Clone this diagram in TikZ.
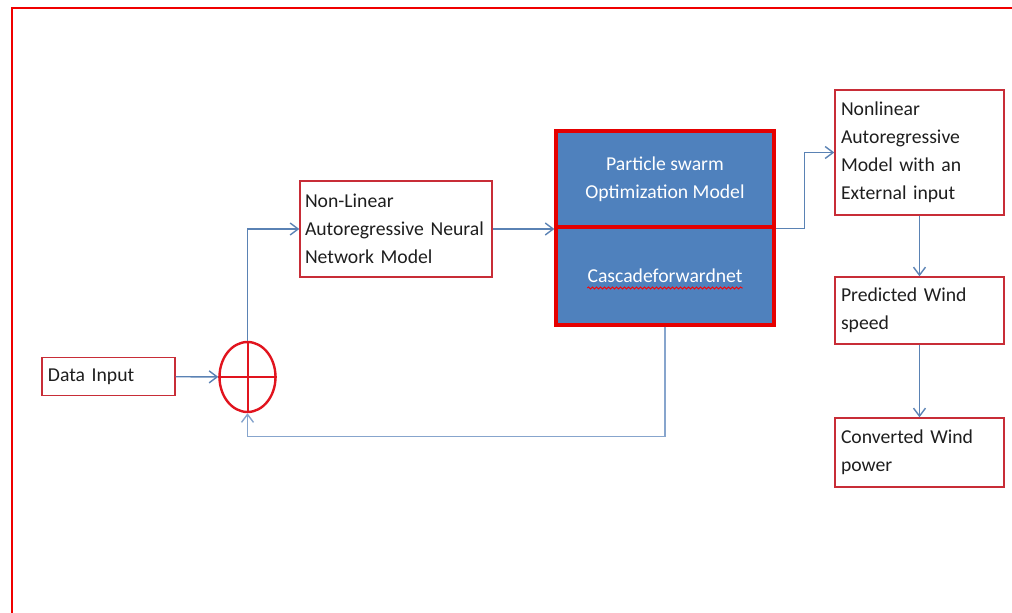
\documentclass[tikz,border=0pt]{standalone}
\usepackage{fontspec}
\setmainfont{Carlito}
\usetikzlibrary{arrows.meta,shapes,positioning,decorations.pathmorphing}

\definecolor{boxred}{RGB}{200,45,55}
\definecolor{sumred}{RGB}{225,20,30}
\definecolor{framered}{RGB}{240,0,0}
\definecolor{psoblue}{RGB}{79,129,189}
\definecolor{flowblue}{RGB}{90,130,180}
\definecolor{backblue}{RGB}{135,165,205}
\definecolor{inktext}{RGB}{30,30,30}

\begin{document}
\begin{tikzpicture}[x=0.25mm,y=-0.25mm,
font=\fontsize{14}{20}\selectfont,
data/.style={
rectangle,
draw=boxred,
line width=0.35mm,
text=inktext,
align=left,
inner xsep=1.5mm
},
psobox/.style={
rectangle,
draw=red!90!black,
line width=0.8mm,
fill=psoblue,
text=white,
align=center,
minimum width=54.5mm
},
flow/.style={draw=flowblue,line width=0.35mm,-{Straight Barb[length=2mm,width=3mm]}},
feedback/.style={flow,draw=backblue},
spellwave/.style={draw=red,line width=0.2mm,decorate,decoration={snake,amplitude=0.25mm,segment length=1mm}}
]
\useasboundingbox (0,0) rectangle (1012,613);
\draw[framered,line width=0.55mm] (12,613) |- (1012,8);

\node (datain) [data,text width=30.25mm,minimum height=9.5mm] at (108.5,376.5) {Data Input};
\node (sum) [ellipse,draw=sumred,line width=0.6mm,minimum width=14mm,minimum height=17.5mm] at (247.5,377) {};
\draw[sumred,line width=0.5mm] (sum.north) -- (sum.south);
\draw[sumred,line width=0.5mm] (sum.west) -- (sum.east);

\node (narnn) [data,text width=45.5mm,inner xsep=1.25mm,minimum height=24mm] at (396,229) {Non-Linear\\Autoregressive Neural\\Network Model};

% optimisation block, two stacked halves
\node (pso) [psobox,minimum height=24mm] at (665,179) {Particle swarm\\Optimization Model};
\node (cascade) [psobox,minimum height=24.5mm,below of=pso,node distance=24.25mm] {};
\node (cascadetxt) [text=white,inner sep=0pt] at (cascade) {Cascadeforwardnet};
\draw[spellwave] ([yshift=-1.3mm]cascadetxt.base west) -- ([yshift=-1.3mm]cascadetxt.base east);

\node (narx) [data,text width=39.25mm,minimum height=31.25mm] at (919.5,152.5) {Nonlinear\\Autoregressive\\Model with an\\External input};
\node (pred) [data,text width=39.25mm,minimum height=16.75mm,below of=narx,node distance=39.5mm] {Predicted Wind\\speed};
\node (conv) [data,text width=39.25mm,minimum height=17.25mm,below of=pred,node distance=35.5mm] {Converted Wind\\power};

\draw[flow] (datain) -- (sum);
\draw[flow] (sum.north) |- (narnn.west);
\draw[flow] (narnn.east) -- (narnn.east -| pso.south west);
\draw[flow] (pso.south east) -- ++(29,0) |- (narx.west);
\draw[flow] (narx) -- (pred);
\draw[flow] (pred) -- (conv);
\draw[feedback] (cascade.south) -- ++(0,110) -| (sum.south);
\end{tikzpicture}
\end{document}
